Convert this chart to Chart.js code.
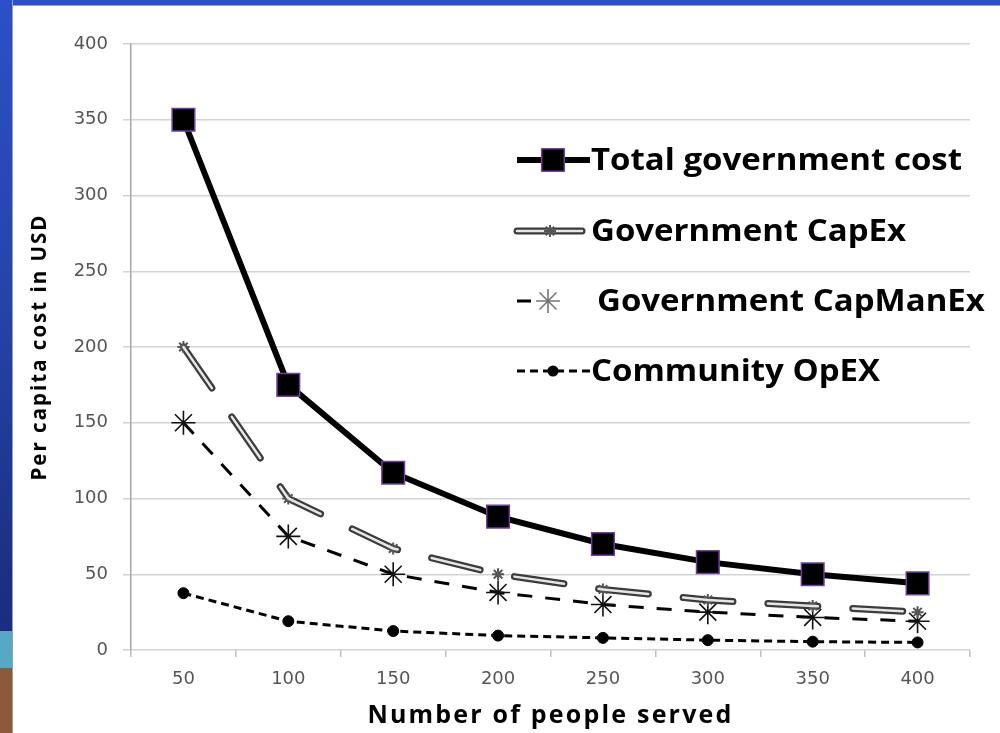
<!DOCTYPE html>
<html><head><meta charset="utf-8">
<script src="https://cdn.jsdelivr.net/npm/chart.js"></script>
<style>
html,body{margin:0;padding:0;width:1000px;height:733px;overflow:hidden;background:#fff}
#top{position:absolute;left:0;top:0;width:1000px;height:5px;background:#2b50c8;border-bottom:1px solid #9aa0b0}
#left{position:absolute;left:0;top:0;width:12px;height:733px;border-right:1px solid #a0a0a0;
 background:linear-gradient(to bottom,#2b50c8 0px,#2544aa 300px,#1c3186 560px,#1a2e7e 631px,#55a9c3 631px,#55a9c3 668px,#8a5a3b 668px,#8a5a3b 733px)}
canvas{position:absolute;left:0;top:0}
</style></head>
<body>
<div id="top"></div><div id="left"></div>
<canvas id="c" width="1000" height="733"></canvas>
<script>
// ---- data ----
const categories = ['50','100','150','200','250','300','350','400'];
const totalCost  = [350, 175, 117, 88, 70, 58, 50, 44];
const capEx      = [200, 100, 67, 50, 40, 33, 29, 25];
const capManEx   = [150, 75, 50, 38, 30, 25, 21.5, 19];
const opEx       = [37.5, 19, 12.5, 9.5, 8, 6.5, 5.5, 5];
const seriesNames = ['Total government cost','Government CapEx','Government CapManEx','Community OpEX'];
const yMin = 0, yMax = 400, yStep = 50;
const xTitle = 'Number of people served';
const yTitle = 'Per capita cost in USD';

// axis titles drawn with a little letter spacing
const titleSpacing = {x: '2.2px', y: '2px'};
const origDrawTitle = Chart.Scale.prototype.drawTitle;
Chart.Scale.prototype.drawTitle = function () {
  const c = this.ctx;
  c.save();
  c.letterSpacing = titleSpacing[this.axis] || '0px';
  origDrawTitle.call(this);
  c.restore();
};

function drawMarker(ctx, style, x, y, r, fill, stroke, lw) {
  ctx.save();
  ctx.setLineDash([]);
  ctx.lineWidth = lw; ctx.strokeStyle = stroke; ctx.fillStyle = fill;
  ctx.beginPath();
  if (style === 'rect') {
    const s = r * Math.SQRT1_2;
    ctx.rect(x - s, y - s, 2 * s, 2 * s); ctx.fill(); if (lw) ctx.stroke();
  } else if (style === 'circle') {
    ctx.arc(x, y, r, 0, 2 * Math.PI); ctx.fill();
  } else if (style === 'star') {
    for (let a = 0; a < 4; a++) {
      const t = a * Math.PI / 4;
      ctx.moveTo(x + Math.cos(t) * r, y + Math.sin(t) * r);
      ctx.lineTo(x - Math.cos(t) * r, y - Math.sin(t) * r);
    }
    ctx.stroke();
  }
  ctx.restore();
}

// legend sample layout (positions only)
const legendRows = [
  {y: 160, x0: 517, x1: 590, parts: [{ds: 0}], marker: {ds: 0, x: 553}, tx: 591},
  {y: 231, x0: 517, x1: 582, parts: [{ds: 2, dash: []}, {ds: 1, dash: []}], marker: {ds: 2, x: 550}, tx: 591},
  {y: 301, x0: 517, x1: 531, parts: [{ds: 3}], marker: {ds: 3, x: 548, color: '#777'}, tx: 597},
  {y: 371, x0: 517, x1: 590, parts: [{ds: 4}], marker: {ds: 4, x: 553}, tx: 591}
];

const legendPlugin = {
  id: 'customLegend',
  afterDraw(chart) {
    const ctx = chart.ctx;
    legendRows.forEach((row, i) => {
      row.parts.forEach(p => {
        const ds = chart.data.datasets[p.ds];
        ctx.save();
        ctx.strokeStyle = ds.borderColor; ctx.lineWidth = ds.borderWidth;
        ctx.lineCap = ds.borderCapStyle || 'butt';
        ctx.setLineDash(p.dash !== undefined ? p.dash : (ds.borderDash || []));
        ctx.beginPath(); ctx.moveTo(row.x0, row.y); ctx.lineTo(row.x1, row.y); ctx.stroke();
        ctx.restore();
      });
      const m = chart.data.datasets[row.marker.ds];
      if (m.pointRadius > 0) {
        drawMarker(ctx, m.pointStyle, row.marker.x, row.y, m.pointRadius,
          m.pointBackgroundColor || '#000', row.marker.color || m.pointBorderColor, m.pointBorderWidth);
      }
      ctx.save();
      ctx.fillStyle = '#000';
      ctx.font = 'bold 30px "Open Sans"';
      ctx.textBaseline = 'middle';
      ctx.translate(row.tx, row.y + 1);
      ctx.scale(1.1, 1);
      ctx.fillText(seriesNames[i], 0, 0);
      ctx.restore();
    });
  }
};

new Chart(document.getElementById('c'), {
  type: 'line',
  data: {
    labels: categories,
    datasets: [
      {label: seriesNames[0], data: totalCost, borderColor: '#000', borderWidth: 6,
       pointStyle: 'rect', pointRadius: 16, pointBackgroundColor: '#000',
       pointBorderColor: '#6f3fa0', pointBorderWidth: 1.5},
      {label: seriesNames[1] + ' (inner)', data: capEx, borderColor: '#e6e6e6', borderWidth: 2.5,
       borderDash: [50, 35], borderCapStyle: 'round', pointRadius: 0},
      {label: seriesNames[1], data: capEx, borderColor: '#3c3c3c', borderWidth: 7,
       borderDash: [50, 35], borderCapStyle: 'round', pointStyle: 'star', pointRadius: 6,
       pointBackgroundColor: 'transparent', pointBorderColor: '#555', pointBorderWidth: 2},
      {label: seriesNames[2], data: capManEx, borderColor: '#000', borderWidth: 3,
       borderDash: [15, 13], pointStyle: 'star', pointRadius: 12,
       pointBackgroundColor: 'transparent', pointBorderColor: '#111', pointBorderWidth: 1.6},
      {label: seriesNames[3], data: opEx, borderColor: '#000', borderWidth: 3,
       borderDash: [8, 5], pointStyle: 'circle', pointRadius: 5.5,
       pointBackgroundColor: '#000', pointBorderColor: '#000', pointBorderWidth: 1}
    ]
  },
  options: {
    responsive: false,
    animation: false,
    layout: {padding: {left: 0, top: 44, right: 30, bottom: 0}},
    plugins: {legend: {display: false}, tooltip: {enabled: false}},
    elements: {line: {tension: 0}},
    scales: {
      x: {
        offset: true,
        grid: {offset: true, drawOnChartArea: false, drawTicks: true, tickLength: 7, color: '#bfbfbf', lineWidth: 1.5},
        border: {display: false},
        ticks: {color: '#555', font: {family: 'DejaVu Sans', size: 18}, padding: 12},
        title: {display: true, text: xTitle, color: '#000',
                font: {family: 'Open Sans', size: 25, weight: 'bold'}, padding: {top: 0, bottom: 2}},
        afterFit(s) { s.height = 83; }
      },
      y: {
        min: yMin, max: yMax,
        ticks: {stepSize: yStep, color: '#555', font: {family: 'DejaVu Sans', size: 18}, padding: 15},
        grid: {color: '#d3d3d3', lineWidth: 1.5, tickLength: 8},
        border: {color: '#a6a6a6', width: 1.5},
        title: {display: true, text: yTitle, color: '#000',
                font: {family: 'Open Sans', size: 20.5, weight: 'bold'}, padding: {top: 28, bottom: 0}},
        afterFit(s) { s.width = 131; }
      }
    }
  },
  plugins: [legendPlugin]
});
</script>
</body></html>
